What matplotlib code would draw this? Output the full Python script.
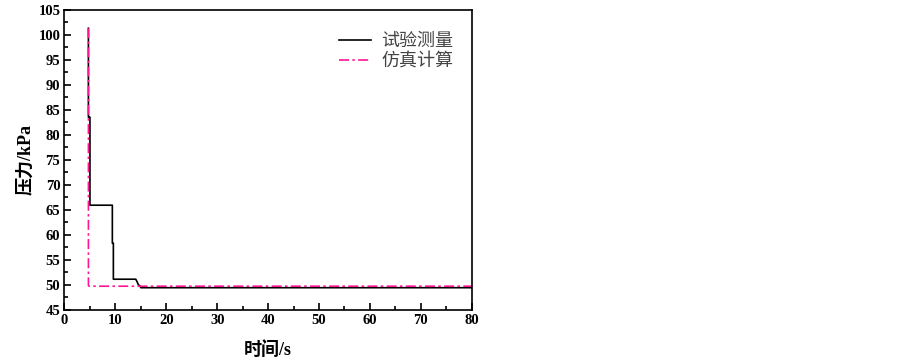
import matplotlib
matplotlib.use('Agg')
from matplotlib import pyplot as plt
from matplotlib.ticker import MultipleLocator

plt.rcParams['font.family'] = ['Liberation Serif', 'Noto Sans CJK SC']

# measured pressure (kPa) vs time (s)
t_test = [4.7, 4.7, 4.85, 5.0, 5.0, 9.4, 9.4, 9.6, 9.6, 14.0, 14.3, 14.5, 14.8, 15.0, 80]
p_test = [101.3, 83.5, 83.5, 83.5, 65.9, 65.9, 58.3, 58.3, 51.1, 51.1, 50.5, 50.0, 49.8, 49.4, 49.4]

# simulated
t_sim = [4.7, 4.7, 4.9, 80]
p_sim = [101.3, 49.8, 49.7, 49.7]

labels = ['试验测量', '仿真计算']

fig = plt.figure(figsize=(9.03, 3.62), dpi=100)
ax = fig.add_axes([64.5 / 903, 1 - 309.7 / 362, (471.7 - 64.5) / 903, (309.7 - 9.7) / 362])

ax.plot(t_test, p_test, color='black', lw=1.2, label=labels[0])
ax.plot(t_sim, p_sim, color='#ff1493', lw=1.2, ls=(0, (6, 2, 1.5, 2)), label=labels[1])

ax.set_xlim(0, 80)
ax.set_ylim(45, 105)
ax.xaxis.set_major_locator(MultipleLocator(10))
ax.xaxis.set_minor_locator(MultipleLocator(5))
ax.yaxis.set_major_locator(MultipleLocator(5))
ax.yaxis.set_minor_locator(MultipleLocator(2.5))
ax.tick_params(which='both', direction='in', top=False, right=False, width=1.2)
ax.tick_params(which='major', length=5, labelsize=10.5, pad=3)
ax.tick_params(which='minor', length=3)
for lab in ax.get_xticklabels() + ax.get_yticklabels():
    lab.set_fontweight('bold')
for s in ax.spines.values():
    s.set_linewidth(1.2)

ax.set_xlabel('时间/s', fontsize=13, fontweight='bold', labelpad=10)
ax.set_ylabel('压力/kPa', fontsize=13, fontweight='bold', labelpad=3)

leg = ax.legend(loc='upper right', bbox_to_anchor=(0.995, 0.975), frameon=False,
                fontsize=13, handlelength=1.8, handletextpad=0.55, labelspacing=0.15)
for txt in leg.get_texts():
    txt.set_color('#444444')

fig.savefig('out.png', dpi=100)
